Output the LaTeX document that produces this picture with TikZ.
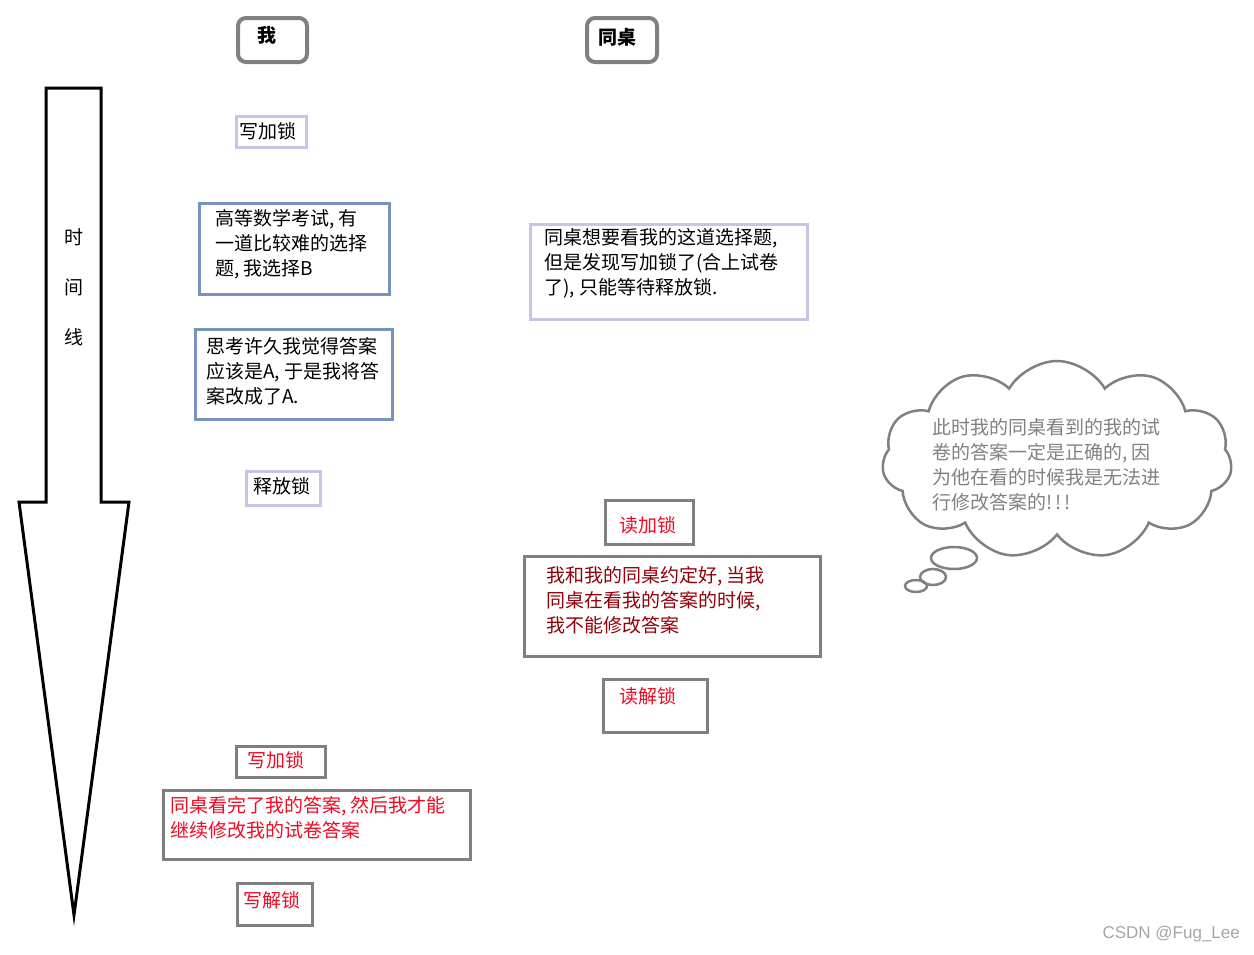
\documentclass[tikz,border=0pt]{standalone}
\usepackage{fontspec}
\setmainfont{Noto Sans CJK SC}
\newfontfamily\markfont{Liberation Sans}
\usepackage{tikz}
\usetikzlibrary{shapes.symbols, positioning}
\definecolor{framegray}{RGB}{128,128,128}
\definecolor{locklav}{RGB}{204,194,232}
\definecolor{noteblue}{RGB}{118,146,190}
\definecolor{lockred}{RGB}{240,10,35}
\definecolor{pactred}{RGB}{145,0,10}
\definecolor{markgray}{RGB}{165,165,165}
\tikzset{
  headbox/.style={rectangle, draw=framegray, line width=4pt, rounded corners=8pt,
    anchor=north west, inner sep=0pt},
  lavbox/.style={rectangle, draw=locklav, line width=3pt, anchor=north west, inner sep=0pt},
  bluebox/.style={rectangle, draw=noteblue, line width=3pt, anchor=north west, inner sep=0pt},
  graybox/.style={rectangle, draw=framegray, line width=3pt, anchor=north west, inner sep=0pt},
  txt/.style={inner sep=0pt, font=\fontsize{19}{25}\selectfont},
  para/.style={txt, anchor=north west, align=left},
  timeline/.style={draw=black, line width=3pt, line join=miter}
}

\begin{document}
\begin{tikzpicture}[x=1pt, y=-1pt]
  \useasboundingbox (0,0) rectangle (1254,954);

  % Time line arrow
  \draw[timeline] (46,88) -- (101,88) -- (101,502) -- (129,502) -- (74,915)
    -- (19,502) -- (46,502) -- cycle;
  \node[txt] (t1) at (74,237) {时};
  \node[txt] (t2) at (74,287) {间};
  \node[txt] (t3) at (74,337) {线};

  % Column heads
  \node[headbox, minimum width=69, minimum height=44] (me) at (236,16) {};
  \node[txt, font=\fontsize{19}{25}\selectfont\bfseries] (metext) at (267,35) {我};
  \node[headbox, minimum width=70, minimum height=44] (mate) at (585,16) {};
  \node[txt, font=\fontsize{19}{25}\selectfont\bfseries] (matetext) at (617,37) {同桌};

  % My side
  \node[lavbox, minimum width=70, minimum height=31] (wlock) at (235,115) {};
  \node[txt] (wlocktext) at (268,131) {写加锁};
  \node[bluebox, minimum width=190, minimum height=91] (exam) at (198,202) {};
  \node[para] (examtext) at (215,209) {高等数学考试, 有\\一道比较难的选择\\题, 我选择B};
  \node[bluebox, minimum width=197, minimum height=90] (think) at (194,328) {};
  \node[para] (thinktext) at (206,337) {思考许久我觉得答案\\应该是A, 于是我将答\\案改成了A.};
  \node[lavbox, minimum width=74, minimum height=34] (release) at (245,470) {};
  \node[txt] (releasetext) at (282,486) {释放锁};

  % Desk mate side
  \node[lavbox, minimum width=277, minimum height=95] (peek) at (529,223) {};
  \node[para] (peektext) at (544,228) {同桌想要看我的这道选择题,\\但是发现写加锁了(合上试卷\\了), 只能等待释放锁.};

  % Thought cloud
  \node[cloud, cloud puffs=11, cloud puff arc=120, aspect=1.8, draw=framegray,
    line width=2.5pt, minimum width=350, minimum height=198, inner sep=0pt] (thought) at (1057,460) {};
  \node[para, text=framegray] (thoughttext) at (932,418) {此时我的同桌看到的我的试\\卷的答案一定是正确的, 因\\为他在看的时候我是无法进\\行修改答案的!\,!\,!};
  \draw[draw=framegray, line width=2.5pt] (954,558) ellipse [x radius=23, y radius=11];
  \draw[draw=framegray, line width=2.5pt] (933,577) ellipse [x radius=13, y radius=8];
  \draw[draw=framegray, line width=2.5pt] (916,586) ellipse [x radius=11, y radius=6];

  % Read lock
  \node[graybox, minimum width=88, minimum height=44] (rlock) at (604,499) {};
  \node[txt, text=lockred] (rlocktext) at (648,525) {读加锁};
  \node[graybox, minimum width=296, minimum height=100] (pact) at (523,555) {};
  \node[para, text=pactred] (pacttext) at (546,566) {我和我的同桌约定好, 当我\\同桌在看我的答案的时候,\\我不能修改答案};
  \node[graybox, minimum width=104, minimum height=53] (runlock) at (602,678) {};
  \node[txt, text=lockred] (runlocktext) at (648,696) {读解锁};

  % Write lock again
  \node[graybox, minimum width=89, minimum height=31] (wlock2) at (235,745) {};
  \node[txt, text=lockred] (wlock2text) at (276,760) {写加锁};
  \node[graybox, minimum width=307, minimum height=69] (resume) at (162,789) {};
  \node[para, text=lockred] (resumetext) at (170,796) {同桌看完了我的答案, 然后我才能\\继续修改我的试卷答案};
  \node[graybox, minimum width=75, minimum height=42] (wunlock) at (236,882) {};
  \node[txt, text=lockred] (wunlocktext) at (272,900) {写解锁};

  % Watermark
  \node[anchor=east, inner sep=0pt, text=markgray, font=\markfont\fontsize{17}{20}\selectfont] (mark) at (1240,934) {CSDN @Fug\_Lee};
\end{tikzpicture}
\end{document}
